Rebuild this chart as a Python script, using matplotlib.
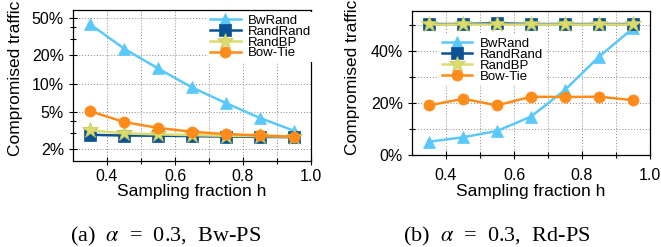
import numpy as np
import matplotlib
matplotlib.use('Agg')
import matplotlib.pyplot as plt
from matplotlib.ticker import FuncFormatter, MultipleLocator, FixedLocator, NullFormatter

plt.rcParams['font.family'] = ['Liberation Sans', 'DejaVu Sans']
plt.rcParams['mathtext.fontset'] = 'stix'

### data
h = [0.35, 0.45, 0.55, 0.65, 0.75, 0.85, 0.95]
series_names = ['BwRand', 'RandRand', 'RandBP', 'Bow-Tie']

# (a) Bw-PS, compromised traffic (fraction)
bw_bwrand = [0.43, 0.236, 0.145, 0.091, 0.062, 0.043, 0.0315]
bw_randrand = [0.0285, 0.0280, 0.0279, 0.0276, 0.0273, 0.0271, 0.0269]
bw_randbp = [0.0319, 0.0295, 0.0288, 0.0283, 0.0278, 0.0276, 0.0272]
bw_bowtie = [0.051, 0.039, 0.0338, 0.0307, 0.0290, 0.0281, 0.0272]

# (b) Rd-PS
rd_bwrand = [0.052, 0.069, 0.093, 0.148, 0.250, 0.377, 0.486]
rd_randrand = [0.502, 0.502, 0.505, 0.502, 0.502, 0.502, 0.502]
rd_randbp = [0.502, 0.502, 0.502, 0.502, 0.502, 0.502, 0.502]
rd_bowtie = [0.191, 0.216, 0.191, 0.224, 0.223, 0.224, 0.211]

colors = ['#5ac8fa', '#0b5394', '#dcdc6e', '#ff8c1a']
markers = ['^', 's', '*', 'o']
msizes = [8, 8, 12, 8]

pct = FuncFormatter(lambda v, p: '%d%%' % round(v * 100))

fig = plt.figure(figsize=(6.61, 2.47), dpi=100)
ax1 = fig.add_axes([73/661, 1-161/247, 238/661, 150.5/247])
ax2 = fig.add_axes([412/661, 1-155.3/247, 238/661, 144.6/247])


def draw(ax, ys):
    for y, name, c, m, ms in zip(ys, series_names, colors, markers, msizes):
        ax.plot(h, y, color=c, marker=m, markersize=ms, lw=1.8, label=name,
                markeredgecolor=c if m != '*' else '#c8c850', markeredgewidth=0.5)
    ax.set_xlim(0.3, 1.0)
    ax.xaxis.set_major_locator(MultipleLocator(0.2))
    ax.xaxis.set_minor_locator(FixedLocator([0.5, 0.7, 0.9]))
    ax.xaxis.set_major_formatter(FuncFormatter(lambda v, p: '%.1f' % v))
    ax.grid(True, which='both', ls=(0, (1, 2)), color='#888888', lw=0.7)
    ax.set_axisbelow(True)
    ax.tick_params(which='major', direction='inout', length=6, width=0.8, labelsize=11.5)
    ax.tick_params(which='minor', direction='inout', length=4, width=0.8)
    ax.tick_params(axis='x', which='both', top=False)
    ax.set_xlabel('Sampling fraction h', fontsize=12.5)
    ax.set_ylabel('Compromised traffic', fontsize=12.5, va='center')
    for s in ax.spines.values():
        s.set_linewidth(0.9)


legend_kw = dict(fontsize=9.5, frameon=True, framealpha=1, edgecolor='none',
                 fancybox=False, labelspacing=-0.1, handlelength=2.3,
                 handletextpad=0.55, borderpad=0.2, borderaxespad=0.1)

draw(ax1, [bw_bwrand, bw_randrand, bw_randbp, bw_bowtie])
ax1.set_yscale('log')
ax1.set_ylim(0.015, 0.6)
ax1.yaxis.set_major_locator(FixedLocator([0.02, 0.05, 0.1, 0.2, 0.5]))
ax1.yaxis.set_major_formatter(pct)
ax1.yaxis.set_minor_locator(FixedLocator([0.03, 0.04, 0.3, 0.4]))
ax1.yaxis.set_minor_formatter(NullFormatter())
ax1.grid(False, which='minor', axis='y')
ax1.tick_params(axis='x', pad=3)
ax1.xaxis.set_label_coords(0.5, -(191-161)/150.5)
ax1.xaxis.label.set_va('center')
ax1.yaxis.set_label_coords(-(73-16)/238, 0.55)
ax1.legend(loc='upper left', bbox_to_anchor=(0.56, 1.0), **legend_kw)

draw(ax2, [rd_bwrand, rd_randrand, rd_randbp, rd_bowtie])
ax2.set_ylim(0, 0.553)
ax2.yaxis.set_major_locator(MultipleLocator(0.2))
ax2.yaxis.set_minor_locator(MultipleLocator(0.1))
ax2.yaxis.set_major_formatter(pct)
ax2.tick_params(axis='x', pad=6)
ax2.xaxis.set_label_coords(0.5, -(191-155.3)/144.6)
ax2.xaxis.label.set_va('center')
ax2.yaxis.set_label_coords(-(412-353)/238, 0.54)
ax2.legend(loc='upper left', bbox_to_anchor=(0.11, 0.84), **legend_kw)

fig.text(166/661, 1-236/247, r'(a)  $\alpha$  =  0.3,  Bw-PS', family='Liberation Serif',
         fontsize=16, ha='center', va='center')
fig.text(497/661, 1-236/247, r'(b)  $\alpha$  =  0.3,  Rd-PS', family='Liberation Serif',
         fontsize=16, ha='center', va='center')

fig.savefig('out.png', dpi=100)
